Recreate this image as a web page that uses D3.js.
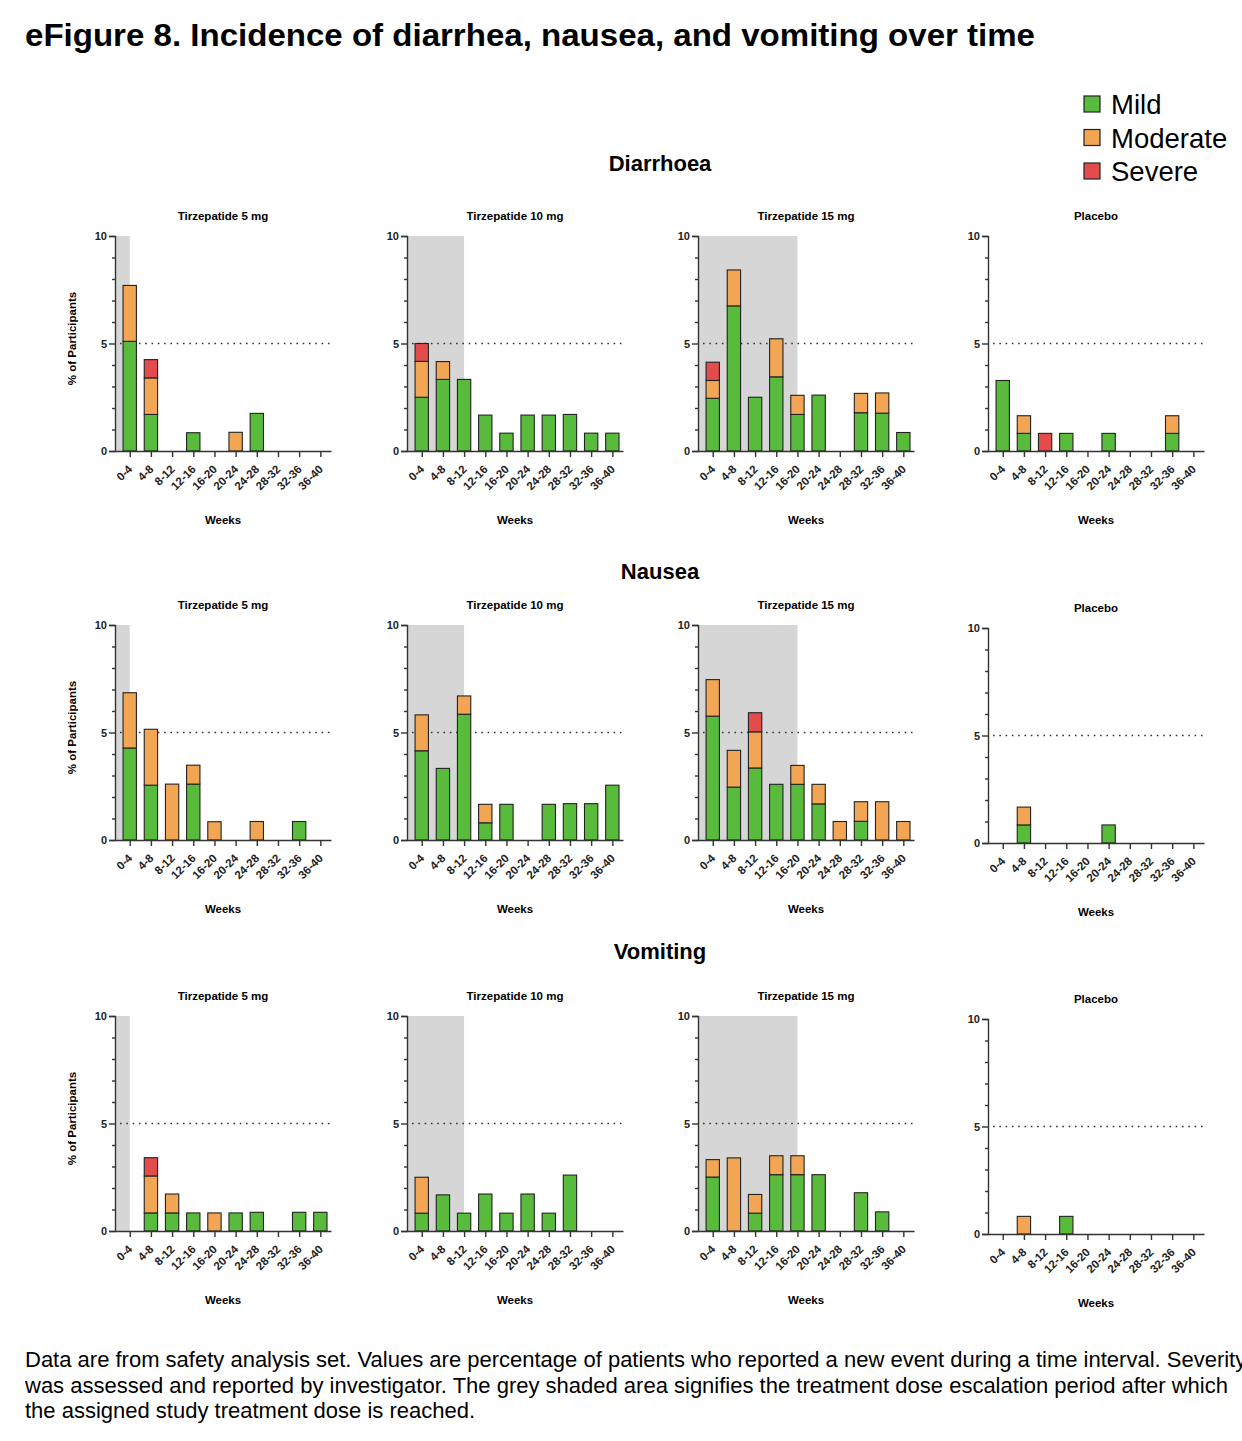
<!DOCTYPE html>
<html>
<head>
<meta charset="utf-8">
<script src="https://cdn.jsdelivr.net/npm/d3@7"></script>
<style>
  body { margin: 0; background: #fff; }
  svg { display: block; font-family: "Liberation Sans", Arial, sans-serif; }
</style>
</head>
<body>
<div id="chart"></div>
<script>
// categories
const weeks = ["0-4", "4-8", "8-12", "12-16", "16-20", "20-24", "24-28", "28-32", "32-36", "36-40"];
const arms = ["Tirzepatide 5 mg", "Tirzepatide 10 mg", "Tirzepatide 15 mg", "Placebo"];
const events = ["Diarrhoea", "Nausea", "Vomiting"];
const severities = ["Mild", "Moderate", "Severe"];
// dose escalation period ends at this interval (null = no shading)
const escalationEnd = ["0-4", "8-12", "16-20", null];

// % of participants per interval: [mild, moderate, severe]
const diarrhoea5 = [
  [5.1, 1.7, 0, 0.85, 0, 0, 1.75, 0, 0, 0],
  [2.6, 1.7, 0, 0, 0, 0.87, 0, 0, 0, 0],
  [0, 0.85, 0, 0, 0, 0, 0, 0, 0, 0]
];
const diarrhoea10 = [
  [2.5, 3.33, 3.33, 1.67, 0.83, 1.67, 1.67, 1.7, 0.83, 0.83],
  [1.67, 0.83, 0, 0, 0, 0, 0, 0, 0, 0],
  [0.83, 0, 0, 0, 0, 0, 0, 0, 0, 0]
];
const diarrhoea15 = [
  [2.45, 6.75, 2.5, 3.45, 1.7, 2.6, 0, 1.78, 1.76, 0.86],
  [0.83, 1.67, 0, 1.77, 0.89, 0, 0, 0.9, 0.94, 0],
  [0.85, 0, 0, 0, 0, 0, 0, 0, 0, 0]
];
const diarrhoeaPlacebo = [
  [3.28, 0.82, 0, 0.82, 0, 0.82, 0, 0, 0.82, 0],
  [0, 0.82, 0, 0, 0, 0, 0, 0, 0.82, 0],
  [0, 0, 0.82, 0, 0, 0, 0, 0, 0, 0]
];
const nausea5 = [
  [4.28, 2.55, 0, 2.6, 0, 0, 0, 0, 0.86, 0],
  [2.57, 2.6, 2.6, 0.88, 0.85, 0, 0.86, 0, 0, 0],
  [0, 0, 0, 0, 0, 0, 0, 0, 0, 0]
];
const nausea10 = [
  [4.15, 3.33, 5.85, 0.8, 1.66, 0, 1.66, 1.69, 1.69, 2.55],
  [1.67, 0, 0.85, 0.86, 0, 0, 0, 0, 0, 0],
  [0, 0, 0, 0, 0, 0, 0, 0, 0, 0]
];
const nausea15 = [
  [5.76, 2.46, 3.35, 2.59, 2.59, 1.68, 0, 0.87, 0, 0],
  [1.7, 1.71, 1.68, 0, 0.88, 0.91, 0.86, 0.91, 1.78, 0.86],
  [0, 0, 0.89, 0, 0, 0, 0, 0, 0, 0]
];
const nauseaPlacebo = [
  [0, 0.84, 0, 0, 0, 0.84, 0, 0, 0, 0],
  [0, 0.83, 0, 0, 0, 0, 0, 0, 0, 0],
  [0, 0, 0, 0, 0, 0, 0, 0, 0, 0]
];
const vomiting5 = [
  [0, 0.84, 0.84, 0.84, 0, 0.84, 0.87, 0, 0.87, 0.87],
  [0, 1.72, 0.88, 0, 0.84, 0, 0, 0, 0, 0],
  [0, 0.85, 0, 0, 0, 0, 0, 0, 0, 0]
];
const vomiting10 = [
  [0.83, 1.68, 0.83, 1.72, 0.83, 1.72, 0.83, 2.6, 0, 0],
  [1.67, 0, 0, 0, 0, 0, 0, 0, 0, 0],
  [0, 0, 0, 0, 0, 0, 0, 0, 0, 0]
];
const vomiting15 = [
  [2.51, 0, 0.83, 2.62, 2.62, 2.62, 0, 1.78, 0.89, 0],
  [0.81, 3.4, 0.87, 0.88, 0.88, 0, 0, 0, 0, 0],
  [0, 0, 0, 0, 0, 0, 0, 0, 0, 0]
];
const vomitingPlacebo = [
  [0, 0, 0, 0.82, 0, 0, 0, 0, 0, 0],
  [0, 0.82, 0, 0, 0, 0, 0, 0, 0, 0],
  [0, 0, 0, 0, 0, 0, 0, 0, 0, 0]
];

const panelData = [
  [diarrhoea5, diarrhoea10, diarrhoea15, diarrhoeaPlacebo],
  [nausea5, nausea10, nausea15, nauseaPlacebo],
  [vomiting5, vomiting10, vomiting15, vomitingPlacebo]
];

const colors = ["#58bb3c", "#f2a654", "#e34c4c"];

let W = 1242, H = 1441;
let svg = d3.select("#chart").append("svg")
    .attr("width", W)
    .attr("height", H);

svg.append("rect").attr("width", W).attr("height", H).attr("fill", "#fff");

// main title
svg.append("text")
    .attr("x", 25).attr("y", 46)
    .attr("textLength", 1010).attr("lengthAdjust", "spacingAndGlyphs")
    .style("font-size", "31px").style("font-weight", "bold")
    .text("eFigure 8. Incidence of diarrhea, nausea, and vomiting over time");

// legend
let legend = svg.append("g").attr("transform", "translate(1084,96)");
severities.forEach((s, i) => {
    legend.append("rect")
        .attr("x", 0).attr("y", i * 33.5)
        .attr("width", 16).attr("height", 16)
        .attr("fill", colors[i]).attr("stroke", "#222").attr("stroke-width", 1.2);
    legend.append("text")
        .attr("x", 27).attr("y", i * 33.5 + 18)
        .style("font-size", "27.5px")
        .text(s);
});

// section headings
let headingY = [171, 579, 959];
events.forEach((e, i) => {
    svg.append("text")
        .attr("x", 660).attr("y", headingY[i])
        .attr("text-anchor", "middle")
        .style("font-size", "22px").style("font-weight", "bold")
        .text(e);
});

// panel layout
let colLeft = [115, 407, 698, 988],
    rowTop = [236, 625, 1016],
    pw = 216, ph = 215;

let x = d3.scalePoint().domain(weeks).range([0, pw]).padding(0.6).align(0.58);
let y = d3.scaleLinear().domain([0, 10]).range([ph, 0]);
let barW = x.step() * 0.63;

panelData.forEach((row, r) => {
    row.forEach((series, c) => {
        let top = rowTop[r] + (c === 3 && r > 0 ? 3 : 0);
        let g = svg.append("g")
            .attr("transform", "translate(" + colLeft[c] + "," + top + ")");

        // shaded escalation period
        if (escalationEnd[c]) {
            g.append("rect")
                .attr("x", 0).attr("y", y(10))
                .attr("width", x(escalationEnd[c]))
                .attr("height", y(0) - y(10))
                .attr("fill", "#d6d6d6");
        }

        // 5% reference line
        g.append("line")
            .attr("x1", 5).attr("x2", pw)
            .attr("y1", y(5)).attr("y2", y(5))
            .attr("stroke", "#333").attr("stroke-width", 1.6)
            .attr("stroke-dasharray", "1.6,4.7");

        // stacked bars
        let stacks = weeks.map((w, i) => {
            let base = 0;
            return series.map((vals, s) => {
                let seg = { week: w, sev: s, y0: base, y1: base + vals[i] };
                base += vals[i];
                return seg;
            });
        }).flat().filter(d => d.y1 > d.y0);

        g.selectAll(".bar")
            .data(stacks)
            .enter()
            .append("rect")
            .attr("class", "bar")
            .attr("x", d => x(d.week) - barW / 2)
            .attr("width", barW)
            .attr("y", d => y(d.y1))
            .attr("height", d => y(d.y0) - y(d.y1))
            .attr("fill", d => colors[d.sev])
            .attr("stroke", "#222")
            .attr("stroke-width", 1.1);

        // y axis: major and minor ticks
        let yAxis = g.append("g")
            .call(d3.axisLeft(y).tickValues([0, 5, 10]).tickSize(6).tickPadding(2));
        g.append("g")
            .call(d3.axisLeft(y).tickValues(d3.range(1, 10).filter(v => v !== 5)).tickSize(3).tickFormat(""))
            .select(".domain").remove();
        yAxis.selectAll("text")
            .style("font-size", "11px").style("font-weight", "bold").attr("fill", "#222");

        // x axis
        let xAxis = g.append("g")
            .attr("transform", "translate(0," + ph + ")")
            .call(d3.axisBottom(x).tickSize(6).tickSizeOuter(0));
        xAxis.selectAll("text")
            .attr("x", 0).attr("y", 0)
            .attr("text-anchor", "end")
            .attr("transform", "translate(-3,13) rotate(-45)")
            .attr("dy", "0.72em")
            .style("font-size", "11.5px").style("font-weight", "bold").attr("fill", "#222");

        svg.selectAll(".domain, .tick line").attr("stroke", "#333").attr("stroke-width", 1.4);

        // panel title
        g.append("text")
            .attr("x", pw / 2).attr("y", -16)
            .attr("text-anchor", "middle")
            .style("font-size", "11.5px").style("font-weight", "bold")
            .text(arms[c]);

        // x axis label
        g.append("text")
            .attr("x", pw / 2).attr("y", ph + 73)
            .attr("text-anchor", "middle")
            .style("font-size", "11.5px").style("font-weight", "bold")
            .text("Weeks");

        // y axis label only on first column
        if (c === 0) {
            g.append("text")
                .attr("transform", "rotate(-90)")
                .attr("x", -ph / 2 + 5).attr("y", -39)
                .attr("text-anchor", "middle")
                .style("font-size", "11.5px").style("font-weight", "bold")
                .text("% of Participants");
        }
    });
});

// footnote
let notes = [
    "Data are from safety analysis set. Values are percentage of patients who reported a new event during a time interval. Severity",
    "was assessed and reported by investigator. The grey shaded area signifies the treatment dose escalation period after which",
    "the assigned study treatment dose is reached."
];
notes.forEach((t, i) => {
    svg.append("text")
        .attr("x", 25).attr("y", 1367 + i * 25.5)
        .style("font-size", "22px")
        .text(t);
});
</script>
</body>
</html>
